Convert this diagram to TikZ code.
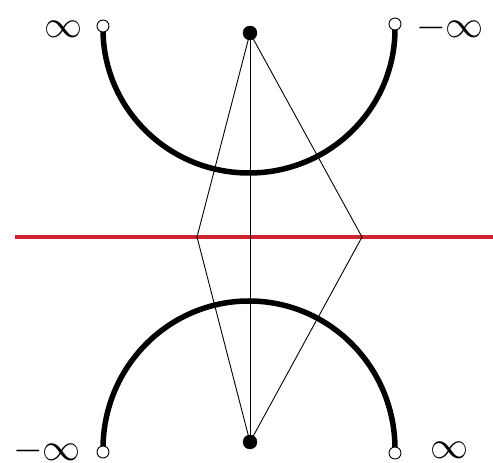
\documentclass[tikz,border=0pt]{standalone}
\begin{document}
\begin{tikzpicture}[x=1pt,y=1pt,
  opendot/.style={circle,draw=black,fill=white,line width=0.9pt,minimum size=12pt,inner sep=0pt},
  fulldot/.style={circle,draw=black,fill=black,minimum size=14pt,inner sep=0pt},
  bigarc/.style={line width=5.5pt},
  thin/.style={line width=0.9pt},
  lbl/.style={inner sep=0pt,scale=3.8}]
\useasboundingbox (0,0) rectangle (493,463);
\definecolor{redline}{RGB}{205,35,50}
% red axis
\coordinate (rl) at (15,226);
\coordinate (rr) at (493,226);
\draw[redline,line width=3.5pt] (rl) -- (rr);
% diamond
\coordinate (T) at (250,430);
\coordinate (B) at (250,21);
\coordinate (L) at (197,226);
\coordinate (R) at (362,226);
\draw[thin] (T) -- (L) -- (B) -- (R) -- cycle;
\draw[thin] (T) -- (B);
% arcs
\draw[bigarc] (103,434) arc[start angle=180,end angle=360,x radius=146pt,y radius=144pt];
\draw[bigarc] (103,14) arc[start angle=180,end angle=0,x radius=146pt,y radius=148pt];
% dots
\node[fulldot] (t) at (T) {};
\node[fulldot] (b) at (B) {};
\node[opendot] (tl) at (103,437) {};
\node[opendot] (tr) at (395,439) {};
\node[opendot] (bl) at (103,11) {};
\node[opendot] (br) at (395,10) {};
% labels
\node[lbl] (ltl) at (64,434) {$\infty$};
\node[lbl] (ltr) at (450,435) {$-\infty$};
\node[lbl] (lbl1) at (47,12) {$-\infty$};
\node[lbl] (lbr) at (449,13) {$\infty$};
\end{tikzpicture}
\end{document}
